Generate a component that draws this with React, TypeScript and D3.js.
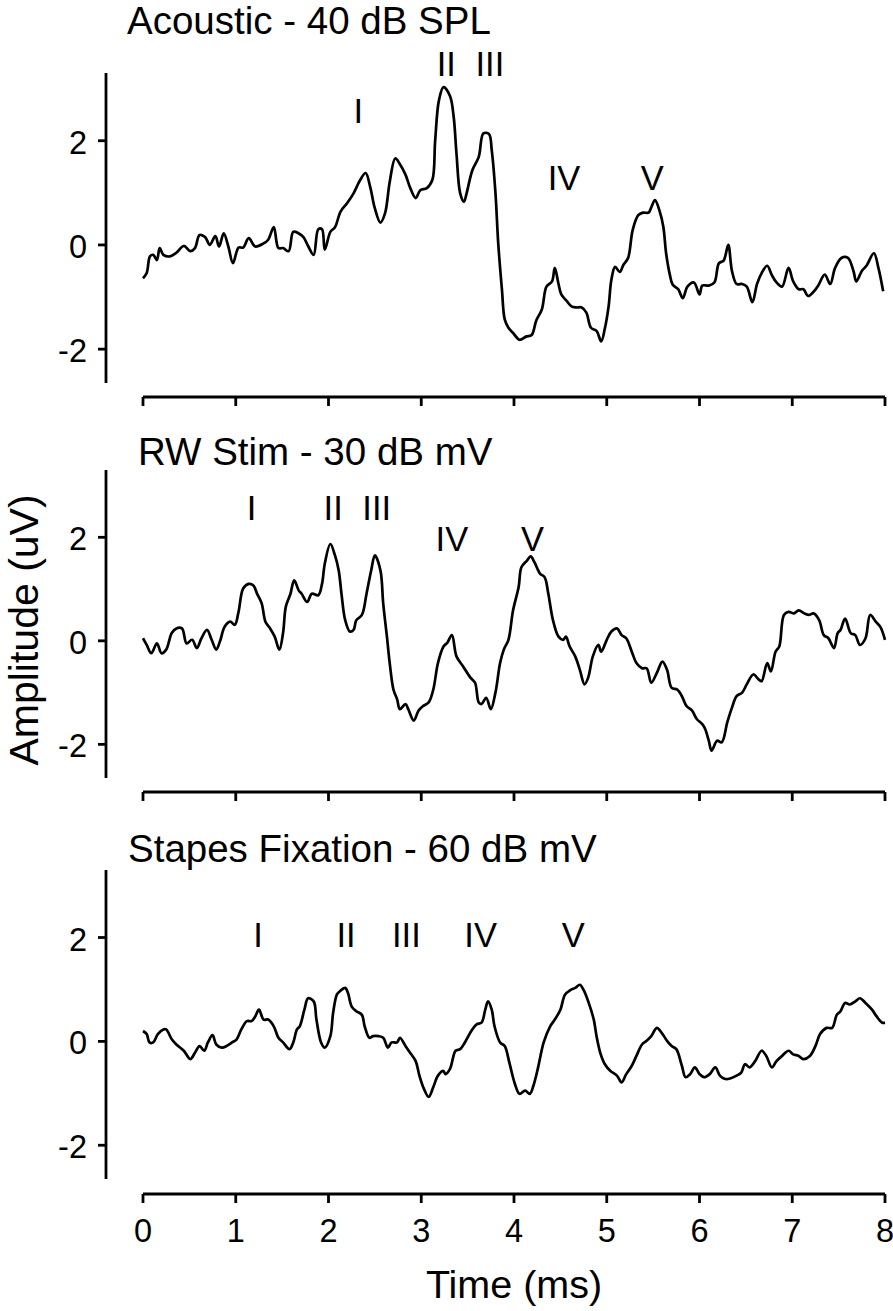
import React from 'react';
import * as d3 from 'd3';

// ---------- data ----------
const timeTicks = [0, 1, 2, 3, 4, 5, 6, 7, 8];
const ampTicks = [-2, 0, 2];
const panelTitles = ['Acoustic - 40 dB SPL', 'RW Stim - 30 dB mV', 'Stapes Fixation - 60 dB mV'];
const xLabel = 'Time (ms)';
const yLabel = 'Amplitude (uV)';

const acousticTrace: [number, number][] = [
  [0.0, -0.64], [0.04, -0.54], [0.075, -0.22], [0.11, -0.19], [0.15, -0.29], [0.18, -0.06], [0.22, -0.19],
  [0.29, -0.22], [0.36, -0.15], [0.44, -0.02], [0.51, -0.12], [0.56, -0.06], [0.61, 0.19], [0.67, 0.15],
  [0.72, 0.0], [0.78, 0.17], [0.82, -0.03], [0.87, 0.22], [0.92, -0.03], [0.97, -0.35], [1.03, -0.05],
  [1.08, -0.05], [1.14, 0.13], [1.21, -0.03], [1.3, 0.03], [1.35, 0.1], [1.41, 0.34], [1.46, -0.06],
  [1.51, -0.06], [1.57, -0.12], [1.62, 0.25], [1.68, 0.22], [1.73, 0.15], [1.78, -0.02], [1.84, -0.19],
  [1.89, 0.3], [1.93, 0.3], [1.96, -0.09], [2.02, 0.25], [2.07, 0.34], [2.13, 0.64], [2.2, 0.8],
  [2.27, 0.99], [2.34, 1.24], [2.4, 1.38], [2.45, 1.11], [2.5, 0.7], [2.56, 0.43], [2.61, 0.61],
  [2.66, 1.21], [2.72, 1.66], [2.77, 1.55], [2.83, 1.35], [2.88, 1.1], [2.94, 0.9], [2.99, 1.05],
  [3.06, 1.09], [3.12, 1.25], [3.15, 2.0], [3.19, 2.77], [3.24, 3.03], [3.31, 2.86], [3.35, 2.45],
  [3.38, 1.75], [3.42, 0.99], [3.46, 0.83], [3.49, 1.0], [3.55, 1.43], [3.62, 1.69], [3.67, 2.14],
  [3.73, 2.13], [3.76, 1.82], [3.8, 1.0], [3.83, 0.03], [3.87, -0.86], [3.9, -1.43], [3.94, -1.59],
  [3.99, -1.69], [4.06, -1.82], [4.13, -1.76], [4.19, -1.73], [4.24, -1.45], [4.3, -1.24], [4.35, -0.8],
  [4.41, -0.7], [4.44, -0.44], [4.48, -0.75], [4.51, -0.95], [4.57, -1.08], [4.62, -1.18], [4.67, -1.2],
  [4.73, -1.2], [4.78, -1.3], [4.83, -1.59], [4.89, -1.65], [4.94, -1.85], [4.98, -1.6], [5.02, -1.18],
  [5.05, -0.67], [5.09, -0.42], [5.14, -0.52], [5.18, -0.38], [5.23, -0.25], [5.28, 0.29], [5.34, 0.57],
  [5.39, 0.62], [5.45, 0.62], [5.48, 0.72], [5.52, 0.86], [5.57, 0.65], [5.61, 0.35], [5.64, -0.16],
  [5.68, -0.57], [5.71, -0.76], [5.77, -0.85], [5.82, -1.02], [5.87, -0.8], [5.94, -0.72], [6.0, -0.95],
  [6.03, -0.78], [6.1, -0.78], [6.16, -0.72], [6.21, -0.35], [6.26, -0.3], [6.31, 0.0], [6.35, -0.5],
  [6.4, -0.75], [6.46, -0.75], [6.51, -0.8], [6.57, -1.1], [6.62, -0.75], [6.67, -0.54], [6.73, -0.4],
  [6.78, -0.58], [6.83, -0.72], [6.89, -0.8], [6.96, -0.44], [7.01, -0.7], [7.07, -0.85], [7.12, -0.85],
  [7.17, -0.98], [7.23, -0.9], [7.28, -0.78], [7.35, -0.57], [7.41, -0.75], [7.46, -0.45], [7.53, -0.25],
  [7.6, -0.25], [7.66, -0.5], [7.69, -0.7], [7.75, -0.5], [7.8, -0.4], [7.88, -0.16], [7.93, -0.45],
  [7.98, -0.89],
];

const rwTrace: [number, number][] = [
  [0.0, 0.05], [0.04, -0.08], [0.09, -0.24], [0.15, -0.05], [0.2, -0.24], [0.25, -0.17], [0.31, 0.15],
  [0.36, 0.24], [0.42, 0.24], [0.47, -0.05], [0.53, 0.02], [0.58, -0.14], [0.63, 0.05], [0.69, 0.21],
  [0.74, 0.02], [0.79, -0.17], [0.83, -0.01], [0.88, 0.27], [0.94, 0.37], [0.99, 0.31], [1.03, 0.56],
  [1.08, 1.01], [1.14, 1.1], [1.19, 1.07], [1.23, 0.91], [1.28, 0.72], [1.32, 0.37], [1.37, 0.24],
  [1.42, 0.08], [1.47, -0.17], [1.51, 0.15], [1.54, 0.66], [1.59, 0.91], [1.63, 1.17], [1.68, 0.97],
  [1.71, 0.91], [1.77, 0.75], [1.82, 0.91], [1.89, 0.88], [1.93, 1.1], [1.96, 1.49], [2.02, 1.87],
  [2.07, 1.65], [2.11, 1.36], [2.14, 0.91], [2.18, 0.4], [2.23, 0.18], [2.27, 0.21], [2.3, 0.4],
  [2.36, 0.5], [2.41, 0.91], [2.46, 1.36], [2.5, 1.65], [2.56, 1.36], [2.59, 0.72], [2.63, 0.08],
  [2.66, -0.43], [2.7, -0.94], [2.74, -1.13], [2.77, -1.32], [2.83, -1.22], [2.86, -1.32], [2.92, -1.54],
  [2.97, -1.35], [3.02, -1.26], [3.08, -1.19], [3.13, -0.94], [3.18, -0.43], [3.24, -0.11], [3.28, -0.04],
  [3.33, 0.11], [3.38, -0.3], [3.45, -0.49], [3.53, -0.71], [3.58, -0.81], [3.62, -1.19], [3.65, -1.22],
  [3.7, -1.1], [3.75, -1.32], [3.8, -1.0], [3.85, -0.43], [3.89, -0.17], [3.94, 0.02], [3.99, 0.59],
  [4.05, 1.04], [4.08, 1.42], [4.14, 1.55], [4.18, 1.63], [4.22, 1.52], [4.28, 1.3], [4.33, 1.23],
  [4.37, 0.91], [4.42, 0.4], [4.48, 0.08], [4.53, 0.02], [4.56, 0.08], [4.6, -0.11], [4.66, -0.3],
  [4.71, -0.56], [4.76, -0.84], [4.8, -0.71], [4.85, -0.3], [4.91, -0.08], [4.94, -0.21], [5.0, 0.02],
  [5.05, 0.18], [5.11, 0.24], [5.16, 0.11], [5.21, 0.05], [5.27, -0.21], [5.32, -0.43], [5.38, -0.53],
  [5.43, -0.53], [5.48, -0.81], [5.54, -0.62], [5.6, -0.4], [5.65, -0.56], [5.7, -0.91], [5.76, -0.94],
  [5.81, -1.07], [5.86, -1.26], [5.92, -1.35], [5.97, -1.51], [6.03, -1.61], [6.06, -1.7], [6.1, -1.93],
  [6.13, -2.12], [6.19, -1.93], [6.24, -1.96], [6.3, -1.57], [6.35, -1.29], [6.4, -1.07], [6.46, -1.0],
  [6.51, -0.84], [6.58, -0.65], [6.64, -0.75], [6.67, -0.78], [6.73, -0.43], [6.77, -0.59], [6.82, -0.21],
  [6.86, -0.11], [6.91, 0.5], [6.96, 0.56], [7.02, 0.53], [7.07, 0.59], [7.13, 0.53], [7.18, 0.5],
  [7.23, 0.53], [7.29, 0.4], [7.34, 0.11], [7.39, 0.05], [7.45, -0.14], [7.49, 0.15], [7.52, 0.21],
  [7.57, 0.43], [7.63, 0.15], [7.68, 0.11], [7.73, -0.08], [7.79, 0.05], [7.84, 0.5], [7.9, 0.37],
  [7.95, 0.27], [8.0, 0.02],
];

const stapesTrace: [number, number][] = [
  [0.0, 0.2], [0.04, 0.14], [0.07, -0.02], [0.11, -0.02], [0.16, 0.14], [0.22, 0.23], [0.25, 0.23],
  [0.31, 0.04], [0.36, -0.06], [0.44, -0.18], [0.51, -0.34], [0.56, -0.22], [0.61, -0.09], [0.66, -0.18],
  [0.7, -0.02], [0.75, 0.12], [0.79, -0.06], [0.85, -0.12], [0.9, -0.09], [0.96, -0.02], [1.01, 0.04],
  [1.06, 0.23], [1.12, 0.39], [1.17, 0.39], [1.21, 0.48], [1.25, 0.61], [1.3, 0.42], [1.35, 0.42],
  [1.41, 0.29], [1.46, 0.07], [1.51, -0.02], [1.58, -0.15], [1.62, -0.02], [1.66, 0.23], [1.69, 0.29],
  [1.74, 0.61], [1.78, 0.83], [1.84, 0.77], [1.87, 0.42], [1.92, -0.02], [1.96, -0.12], [2.02, 0.1],
  [2.05, 0.55], [2.09, 0.9], [2.12, 0.96], [2.18, 1.03], [2.21, 0.93], [2.25, 0.67], [2.3, 0.58],
  [2.36, 0.51], [2.39, 0.29], [2.44, 0.07], [2.48, 0.1], [2.54, 0.1], [2.59, 0.07], [2.64, -0.12],
  [2.68, -0.02], [2.74, -0.02], [2.77, 0.07], [2.83, -0.09], [2.88, -0.22], [2.94, -0.38], [2.98, -0.66],
  [3.03, -0.92], [3.08, -1.07], [3.13, -0.88], [3.18, -0.66], [3.24, -0.57], [3.26, -0.63], [3.31, -0.53],
  [3.37, -0.18], [3.42, -0.15], [3.47, -0.02], [3.55, 0.23], [3.6, 0.33], [3.65, 0.36], [3.69, 0.61],
  [3.72, 0.77], [3.76, 0.61], [3.79, 0.29], [3.85, -0.02], [3.9, -0.09], [3.95, -0.41], [4.01, -0.82],
  [4.06, -1.01], [4.12, -0.95], [4.17, -1.01], [4.21, -0.85], [4.26, -0.5], [4.32, -0.02], [4.39, 0.29],
  [4.44, 0.42], [4.5, 0.61], [4.55, 0.9], [4.61, 0.99], [4.66, 1.03], [4.71, 1.09], [4.75, 0.99],
  [4.8, 0.77], [4.86, 0.42], [4.89, 0.1], [4.93, -0.22], [4.98, -0.44], [5.04, -0.57], [5.11, -0.66],
  [5.16, -0.79], [5.21, -0.63], [5.27, -0.47], [5.32, -0.28], [5.38, -0.06], [5.43, 0.01], [5.48, 0.1],
  [5.54, 0.26], [5.59, 0.17], [5.65, 0.01], [5.7, -0.09], [5.75, -0.15], [5.81, -0.47], [5.85, -0.69],
  [5.9, -0.63], [5.95, -0.5], [6.0, -0.63], [6.05, -0.69], [6.11, -0.63], [6.17, -0.5], [6.22, -0.66],
  [6.27, -0.72], [6.32, -0.72], [6.4, -0.66], [6.45, -0.6], [6.49, -0.44], [6.54, -0.5], [6.6, -0.38],
  [6.67, -0.18], [6.72, -0.28], [6.78, -0.5], [6.83, -0.38], [6.89, -0.28], [6.96, -0.18], [7.01, -0.25],
  [7.07, -0.28], [7.12, -0.34], [7.19, -0.28], [7.25, -0.09], [7.3, 0.14], [7.37, 0.26], [7.43, 0.26],
  [7.48, 0.51], [7.52, 0.58], [7.57, 0.74], [7.62, 0.71], [7.68, 0.77], [7.73, 0.83], [7.79, 0.74],
  [7.86, 0.61], [7.91, 0.48], [7.97, 0.36], [8.0, 0.36],
];

const peakNames = ['I', 'II', 'III', 'IV', 'V'];
const acousticPeakT = [2.32, 3.27, 3.74, 4.54, 5.49];
const acousticPeakV = [2.34, 3.24, 3.24, 1.05, 1.05];
const rwPeakT = [1.17, 2.05, 2.52, 3.33, 4.2];
const rwPeakV = [2.33, 2.33, 2.33, 1.74, 1.74];
const stapesPeakT = [1.24, 2.19, 2.84, 3.64, 4.64];
const stapesPeakV = [1.81, 1.81, 1.81, 1.81, 1.81];

const traces = [acousticTrace, rwTrace, stapesTrace];
const peakTs = [acousticPeakT, rwPeakT, stapesPeakT];
const peakVs = [acousticPeakV, rwPeakV, stapesPeakV];

// ---------- layout ----------
const W = 893;
const H = 1311;
const FONT = "'Liberation Sans', Arial, Helvetica, sans-serif";
const xLeft = 143;
const xRight = 885;
const yAxisX = 106;
const panelBox = [
  { top: 73, bottom: 383, xAxisY: 397, titleX: 127, titleY: 34 },
  { top: 470, bottom: 778, xAxisY: 792, titleX: 138, titleY: 465 },
  { top: 870, bottom: 1179, xAxisY: 1194, titleX: 128, titleY: 862 },
];
const yDomain: [number, number] = [-2.65, 3.3];

const x = d3.scaleLinear().domain([0, 8]).range([xLeft, xRight]);

function Panel({ idx }: { idx: number }) {
  const box = panelBox[idx];
  const y = d3.scaleLinear().domain(yDomain).range([box.bottom, box.top]);
  const line = d3
    .line<[number, number]>()
    .x((d) => x(d[0]))
    .y((d) => y(d[1]))
    .curve(d3.curveCatmullRom.alpha(0.5));
  const showLabels = idx === 2;
  return (
    <g>
      <text x={box.titleX} y={box.titleY} fontSize={38.5} fontFamily={FONT} fill="#000">
        {panelTitles[idx]}
      </text>
      {/* y axis */}
      <line x1={yAxisX} x2={yAxisX} y1={box.top} y2={box.bottom} stroke="#000" strokeWidth={2.8} />
      {ampTicks.map((t) => (
        <g key={t}>
          <line x1={yAxisX - 8} x2={yAxisX} y1={y(t)} y2={y(t)} stroke="#000" strokeWidth={2.8} />
          <text x={87} y={y(t) + 13} fontSize={32.5} fontFamily={FONT} textAnchor="end" fill="#000">
            {t}
          </text>
        </g>
      ))}
      {/* x axis */}
      <line x1={x(0)} x2={x(8)} y1={box.xAxisY} y2={box.xAxisY} stroke="#000" strokeWidth={2.8} />
      {timeTicks.map((t) => (
        <g key={t}>
          <line x1={x(t)} x2={x(t)} y1={box.xAxisY} y2={box.xAxisY + 9} stroke="#000" strokeWidth={2.8} />
          {showLabels && (
            <text x={x(t)} y={box.xAxisY + 48} fontSize={32.5} fontFamily={FONT} textAnchor="middle" fill="#000">
              {t}
            </text>
          )}
        </g>
      ))}
      {/* trace */}
      <path d={line(traces[idx]) || ''} fill="none" stroke="#000" strokeWidth={2.7} strokeLinejoin="round" />
      {/* peak labels */}
      {peakNames.map((n, i) => (
        <text
          key={n}
          x={x(peakTs[idx][i])}
          y={y(peakVs[idx][i])}
          fontSize={34.5}
          fontFamily={FONT}
          textAnchor="middle"
          fill="#000"
        >
          {n}
        </text>
      ))}
    </g>
  );
}

export default function App() {
  return (
    <svg
      width={W}
      height={H}
      viewBox={`0 0 ${W} ${H}`}
      style={{ position: 'absolute', left: 0, top: 0, background: '#fff' }}
    >
      <rect x={0} y={0} width={W} height={H} fill="#fff" />
      {[0, 1, 2].map((i) => (
        <Panel key={i} idx={i} />
      ))}
      <text x={x(4)} y={1298} fontSize={39.5} fontFamily={FONT} textAnchor="middle" fill="#000">
        {xLabel}
      </text>
      <text
        transform={`translate(38, 630) rotate(-90)`}
        fontSize={41}
        fontFamily={FONT}
        textAnchor="middle"
        fill="#000"
      >
        {yLabel}
      </text>
    </svg>
  );
}
